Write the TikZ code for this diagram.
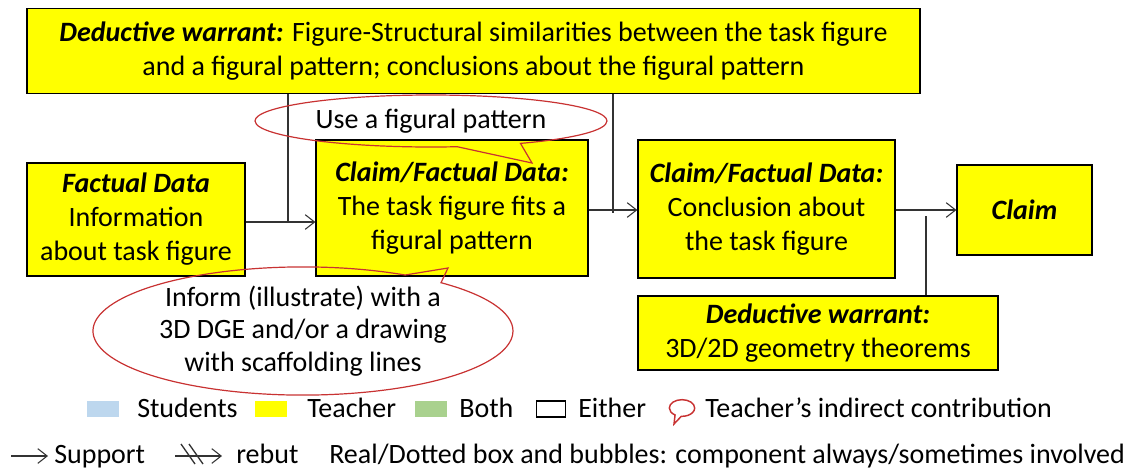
\documentclass[tikz,border=0pt]{standalone}
\usepackage{fontspec}
\setmainfont{Carlito}
\usetikzlibrary{positioning,shapes.callouts,arrows.meta}
\definecolor{boxyellow}{HTML}{FFFF00}
\definecolor{bubblered}{HTML}{C83232}
\definecolor{studentblue}{HTML}{BDD7EE}
\definecolor{bothgreen}{HTML}{A9D18E}

\begin{document}
\begin{tikzpicture}[x=0.75pt,y=-0.75pt,
  box/.style={draw=black, fill=boxyellow, line width=0.9pt, align=center, inner sep=0pt,
    font=\fontsize{21}{25.5}\selectfont},
  support/.style={draw=black!80, line width=0.8pt, -{Straight Barb[length=7pt,width=11pt]}},
  link/.style={draw=black!80, line width=0.8pt},
  bubble/.style={ellipse callout, draw=bubblered, line width=0.9pt, align=center, inner sep=0pt,
    font=\fontsize{21}{24.5}\selectfont},
  swatch/.style={minimum width=24pt, minimum height=12pt, inner sep=0pt},
  key/.style={anchor=base west, inner sep=0pt, font=\fontsize{21}{24}\selectfont}]
\useasboundingbox (0,0) rectangle (1133,472);

% boxes
\node[box, minimum width=669.75pt, minimum height=63.75pt] (warrantTop) at (473.5,51)
  {\textbf{\textit{Deductive warrant:}} Figure-Structural similarities between the task figure\\
   and a figural pattern; conclusions about the figural pattern};
\node[box, minimum width=163.5pt, minimum height=84.75pt] (factual) at (136,219.5)
  {\textbf{\textit{Factual Data}}\\ Information\\ about task figure};
\node[box, minimum width=204pt, minimum height=102pt] (claimA) at (452,208)
  {\textbf{\textit{Claim/Factual Data:}}\\ The task figure fits a\\ figural pattern};
\node[box, minimum width=192.75pt, minimum height=103.5pt] (claimB) at (766.5,209)
  {\textbf{\textit{Claim/Factual Data:}}\\ Conclusion about\\ the task figure};
\node[box, minimum width=101.25pt, minimum height=67.5pt] (claim) at (1024.5,210)
  {\textbf{\textit{Claim}}};
\node[box, minimum width=270pt, minimum height=55.5pt] (warrantBot) at (818,333)
  {\textbf{\textit{Deductive warrant:}}\\ 3D/2D geometry theorems};

% connectors
\coordinate (joinA) at (288,222);
\coordinate (joinB) at (613,213);
\coordinate (joinC) at (926,216);
\draw[support] (factual.east |- joinA) -- (claimA.west |- joinA);
\draw[link] (warrantTop.south -| joinA) -- (joinA);
\draw[support] (claimA.east |- 0,210) -- (claimB.west |- 0,210);
\draw[link] (warrantTop.south -| joinB) -- (joinB);
\draw[support] (claimB.east |- 0,210) -- (claim.west |- 0,210);
\draw[link] (warrantBot.north -| joinC) -- (joinC);

% teacher bubbles
\node[bubble, minimum width=264pt, minimum height=39pt, callout pointer arc=22,
  callout absolute pointer={(532,163)}] (useBubble) at (431,121) {Use a figural pattern};
\node[bubble, minimum width=315pt, minimum height=72.75pt, callout pointer arc=12,
  callout absolute pointer={(448,268)}] (informBubble) at (303,331)
  {Inform (illustrate) with a\\ 3D DGE and/or a drawing\\ with scaffolding lines};

% legend
\node[swatch, fill=studentblue] (keyStudents) at (103,409) {};
\node[key] (txtStudents) at (137,417) {Students};
\node[swatch, fill=boxyellow] (keyTeacher) at (270.5,409) {};
\node[key] (txtTeacher) at (307,417) {Teacher};
\node[swatch, fill=bothgreen] (keyBoth) at (431,409) {};
\node[key] (txtBoth) at (459,417) {Both};
\node[swatch, draw=black, line width=0.9pt, minimum width=22pt] (keyEither) at (551,409) {};
\node[key] (txtEither) at (578,417) {Either};
\node[ellipse callout, draw=bubblered, line width=1.1pt, minimum width=19pt, minimum height=12.5pt,
  inner sep=0pt, callout pointer arc=30, callout absolute pointer={(674,424)}] (keyBubble) at (682,408) {};
\node[key] (txtBubble) at (705,417) {Teacher’s indirect contribution};

\coordinate (supStart) at (11,456);
\coordinate (supEnd) at (48,456);
\draw[support] (supStart) -- (supEnd);
\node[key] (txtSupport) at (54,463) {Support};
\coordinate (rebStart) at (175,456);
\coordinate (rebEnd) at (222,456);
\draw[support] (rebStart) -- (rebEnd);
\draw[link, line width=1pt] (181,444) -- (195,464);
\draw[link, line width=1pt] (189,444) -- (203,464);
\node[key] (txtRebut) at (236,463) {rebut};
\node[key] (txtNote) at (329,463) {Real/Dotted box and bubbles: component always/sometimes involved};
\end{tikzpicture}
\end{document}
